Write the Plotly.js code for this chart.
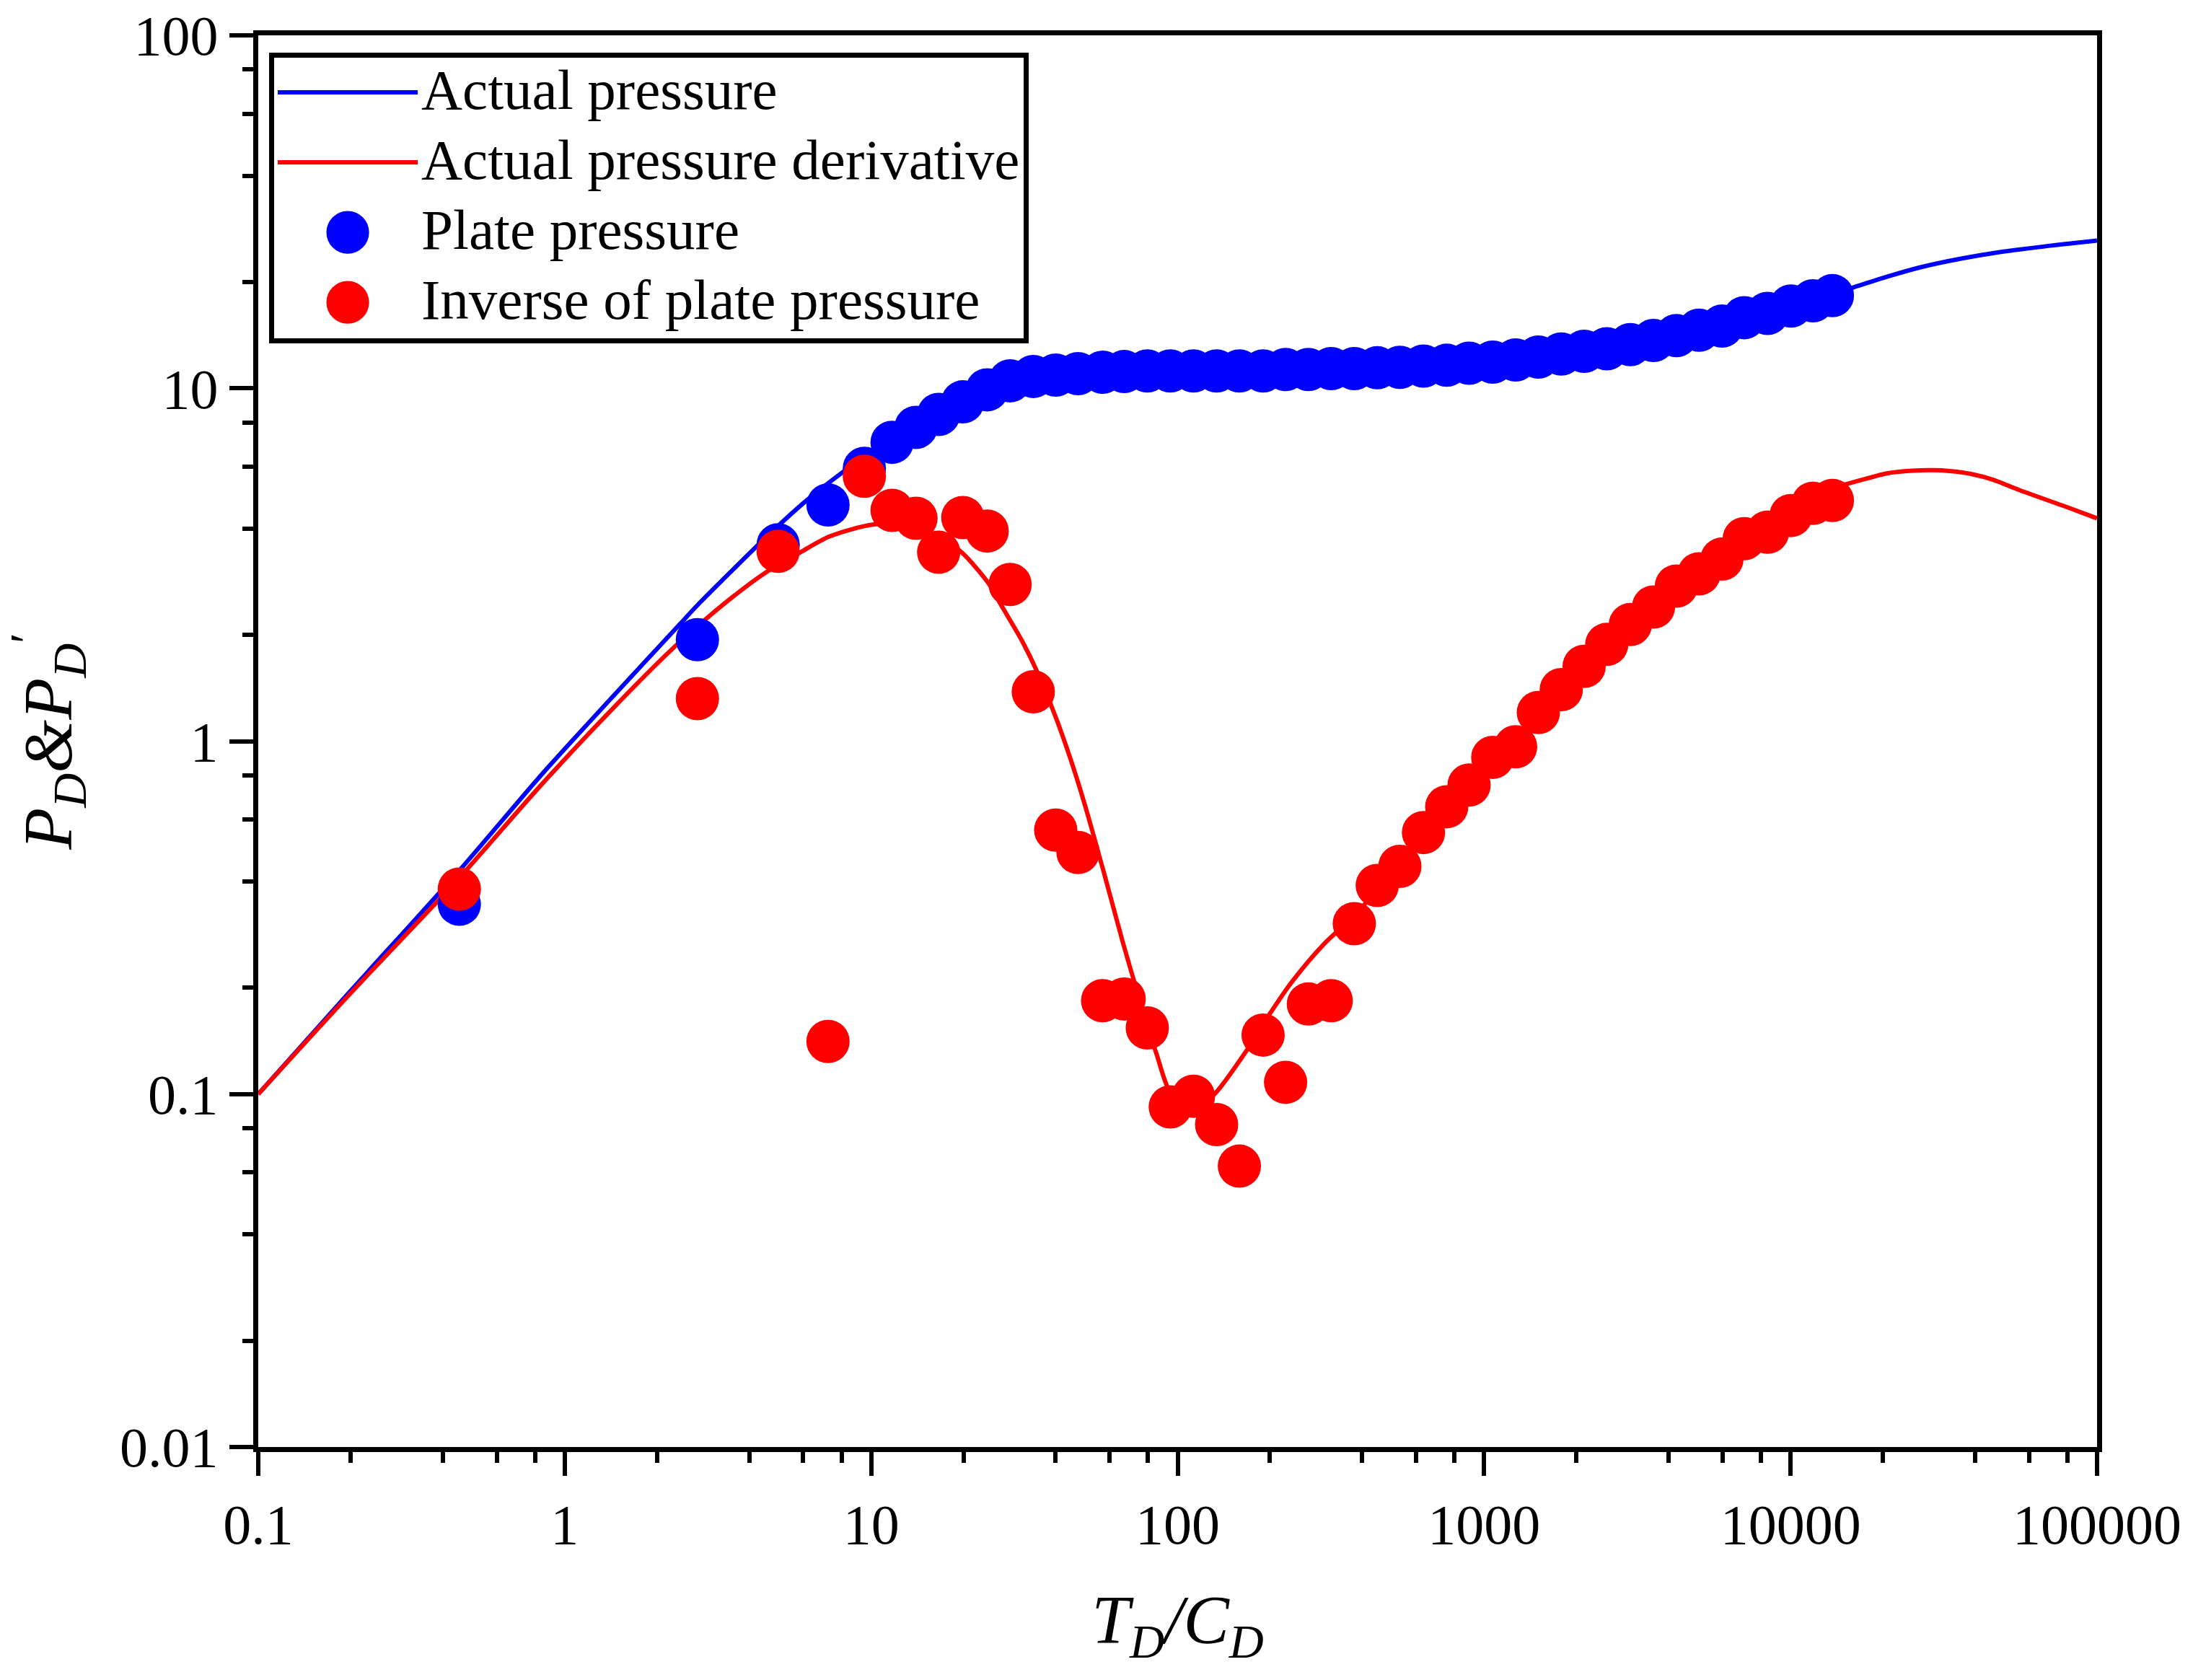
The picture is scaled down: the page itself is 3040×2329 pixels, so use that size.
<!DOCTYPE html>
<html>
<head>
<meta charset="utf-8">
<script src="https://cdn.plot.ly/plotly-3.0.1.min.js"></script>
<style>
  html, body { margin: 0; padding: 0; background: #ffffff; }
  #chart { width: 3040px; height: 2329px; }
</style>
</head>
<body>
<div id="chart"></div>
<script>
// ---- Data ----
// Actual pressure (solid blue curve)
const curveBlueX = [0.1, 0.2, 0.453, 0.836, 1.438, 2.38, 2.7, 3.55, 4.65, 6.1, 8.0, 10, 11.7, 14, 16.6, 19.9, 23.9, 28.4, 33.8, 40, 50, 70, 100, 160, 300, 500, 800, 1200, 2000, 3000, 4240, 6000, 8410, 11830, 13690, 16000, 21000, 27000, 36000, 46500, 66700, 100000];
const curveBlueY = [0.1, 0.196, 0.43, 0.80, 1.34, 2.15, 2.42, 3.07, 3.86, 4.78, 5.75, 6.6, 7.2, 7.85, 8.5, 9.2, 9.9, 10.4, 10.75, 10.9, 11.05, 11.15, 11.2, 11.22, 11.35, 11.46, 11.65, 11.95, 12.6, 13.3, 14.1, 15.1, 16.3, 17.8, 18.5, 19.3, 20.8, 22.1, 23.3, 24.2, 25.2, 26.2];

// Actual pressure derivative (solid red curve)
const curveRedX = [0.1, 0.2, 0.453, 0.836, 1.438, 2.25, 2.96, 3.88, 4.65, 5.88, 7.3, 10.1, 12.6, 14, 16.6, 19.8, 24.3, 26.4, 31.2, 34.6, 40, 45.3, 50, 57.9, 66.1, 73.8, 85.3, 94, 110, 132, 168, 199, 235, 300, 377, 448, 531, 634, 755, 893, 1067, 1267, 1503, 1785, 2120, 2513, 3000, 3570, 4240, 5025, 5970, 7060, 8410, 10030, 11830, 13690, 15200, 20600, 25000, 29100, 33000, 38800, 46000, 55700, 80000, 100000];
const curveRedY = [0.1, 0.193, 0.41, 0.75, 1.24, 1.83, 2.26, 2.73, 3.05, 3.43, 3.8, 4.11, 4.1, 4.02, 3.8, 3.42, 2.78, 2.45, 1.91, 1.59, 1.17, 0.86, 0.652, 0.414, 0.271, 0.195, 0.130, 0.102, 0.088, 0.1, 0.133, 0.168, 0.207, 0.266, 0.32, 0.38, 0.45, 0.54, 0.64, 0.75, 0.88, 1.0, 1.17, 1.37, 1.6, 1.86, 2.15, 2.47, 2.8, 3.15, 3.5, 3.9, 4.3, 4.7, 5.0, 5.25, 5.35, 5.74, 5.84, 5.86, 5.83, 5.72, 5.5, 5.15, 4.6, 4.28];

// Sampled points (shared x)
const pointsX = [0.453, 2.71, 4.97, 7.23, 9.5, 11.7, 14.0, 16.6, 19.9, 23.9, 28.4, 33.8, 40.0, 47.3, 56.9, 66.9, 79.6, 94.6, 112.6, 134, 159, 190, 225, 267, 317, 377, 448, 531, 634, 755, 893, 1067, 1267, 1503, 1785, 2120, 2513, 3000, 3570, 4240, 5025, 5970, 7060, 8410, 10030, 11830, 13690];
// Plate pressure (blue dots)
const platePressure = [0.345, 1.94, 3.6, 4.67, 5.93, 7.03, 7.75, 8.43, 9.15, 9.9, 10.5, 10.8, 10.9, 11.0, 11.1, 11.15, 11.2, 11.2, 11.2, 11.2, 11.2, 11.2, 11.3, 11.3, 11.37, 11.37, 11.43, 11.46, 11.56, 11.62, 11.78, 11.86, 12.03, 12.26, 12.5, 12.73, 12.94, 13.3, 13.66, 14.1, 14.6, 15.0, 15.85, 16.3, 17.1, 17.7, 18.3];
// Inverse of plate pressure (red dots)
const inversePressure = [0.381, 1.32, 3.45, 0.141, 5.63, 4.51, 4.28, 3.43, 4.3, 3.94, 2.78, 1.38, 0.56, 0.484, 0.184, 0.186, 0.154, 0.092, 0.0986, 0.082, 0.0625, 0.147, 0.108, 0.18, 0.184, 0.304, 0.39, 0.442, 0.551, 0.652, 0.751, 0.90, 0.964, 1.206, 1.40, 1.63, 1.88, 2.14, 2.40, 2.75, 2.98, 3.28, 3.75, 3.91, 4.36, 4.72, 4.81];

// Tick labels
const xTickVals = [0.1, 1, 10, 100, 1000, 10000, 100000];
const xTickText = ['0.1', '1', '10', '100', '1000', '10000', '100000'];
const yTickVals = [0.01, 0.1, 1, 10, 100];
const yTickText = ['0.01', '0.1', '1', '10', '100'];

const seriesNames = ['Actual pressure', 'Actual pressure derivative', 'Plate pressure', 'Inverse of plate pressure'];

// minor ticks at 2,4,6,8 of each decade
function minorVals(lo, hi) {
  const out = [];
  for (let e = lo; e < hi; e++) {
    [2, 4, 6, 8].forEach(m => out.push(m * Math.pow(10, e)));
  }
  return out;
}

const FONT = '"Liberation Serif", "Times New Roman", serif';
const BLUE = '#0000ff';
const RED = '#ff0000';

const traces = [
  { x: curveBlueX, y: curveBlueY, name: seriesNames[0], type: 'scatter', mode: 'lines',
    line: { color: BLUE, width: 6, shape: 'spline', smoothing: 0.8 } },
  { x: curveRedX, y: curveRedY, name: seriesNames[1], type: 'scatter', mode: 'lines',
    line: { color: RED, width: 6, shape: 'spline', smoothing: 0.8 } },
  { x: pointsX, y: platePressure, name: seriesNames[2], type: 'scatter', mode: 'markers',
    marker: { color: BLUE, size: 60, line: { width: 0 } } },
  { x: pointsX, y: inversePressure, name: seriesNames[3], type: 'scatter', mode: 'markers',
    marker: { color: RED, size: 60, line: { width: 0 } } }
];

const axisCommon = {
  type: 'log',
  showline: true, linecolor: '#000', linewidth: 7, mirror: true,
  ticks: 'outside', ticklen: 33, tickwidth: 6, tickcolor: '#000',
  tickmode: 'array',
  tickfont: { family: FONT, size: 78, color: '#000' },
  showgrid: false, zeroline: false
};

const layout = {
  width: 3040, height: 2329,
  paper_bgcolor: '#ffffff', plot_bgcolor: '#ffffff',
  margin: { l: 358, r: 133, t: 49, b: 323, pad: 0 },
  font: { family: FONT, color: '#000' },
  showlegend: true,
  xaxis: Object.assign({}, axisCommon, {
    range: [-1, 5],
    tickvals: xTickVals, ticktext: xTickText,
    minor: { tickmode: 'array', tickvals: minorVals(-1, 5), ticks: 'outside', ticklen: 15, tickwidth: 6, tickcolor: '#000', showgrid: false },
    title: { text: '<i>T</i><sub><i>D</i></sub><i>/C</i><sub><i>D</i></sub>', font: { family: FONT, size: 95, color: '#000' }, standoff: 58 }
  }),
  yaxis: Object.assign({}, axisCommon, {
    range: [-2, 2],
    tickvals: yTickVals, ticktext: yTickText,
    minor: { tickmode: 'array', tickvals: minorVals(-2, 2), ticks: 'outside', ticklen: 15, tickwidth: 6, tickcolor: '#000', showgrid: false },
    title: { text: '<i>P</i><sub><i>D</i></sub><i>&amp;P</i><sub><i>D</i></sub><sup>′</sup>', font: { family: FONT, size: 95, color: '#000' }, standoff: 40 }
  }),
  legend: {
    x: 0.0059, y: 0.9877, xanchor: 'left', yanchor: 'top',
    bgcolor: '#ffffff', bordercolor: '#000', borderwidth: 7,
    font: { family: FONT, size: 79, color: '#000' },
    itemwidth: 194, tracegroupgap: 0, traceorder: 'normal'
  }
};

Plotly.newPlot('chart', traces, layout, { staticPlot: true, displayModeBar: false }).then(function () {
  // enlarge legend dots to match plotted marker size (legend caps symbols at 16px)
  document.querySelectorAll('.legend .legendpoints path.scatterpts').forEach(function (p) {
    const t = p.getAttribute('transform') || '';
    p.setAttribute('transform', t + ' scale(3.7)');
  });
  // tighten legend row spacing to the reference's
  const items = document.querySelectorAll('.legend .traces');
  items.forEach(function (g, i) {
    const t = g.getAttribute('transform') || '';
    const m = t.match(/translate\(\s*([-\d.]+)[ ,]+([-\d.]+)\s*\)/);
    const x = m ? parseFloat(m[1]) : 0;
    g.setAttribute('transform', 'translate(' + x + ',' + (55 + i * 97) + ')');
    const txt = g.querySelector('text.legendtext');
    if (txt) txt.setAttribute('transform', 'translate(0,-8)');
  });
  const bg = document.querySelector('.legend rect.bg');
  if (bg) {
    bg.setAttribute('height', 396);
    bg.setAttribute('width', 1046);
  }
});
</script>
</body>
</html>
